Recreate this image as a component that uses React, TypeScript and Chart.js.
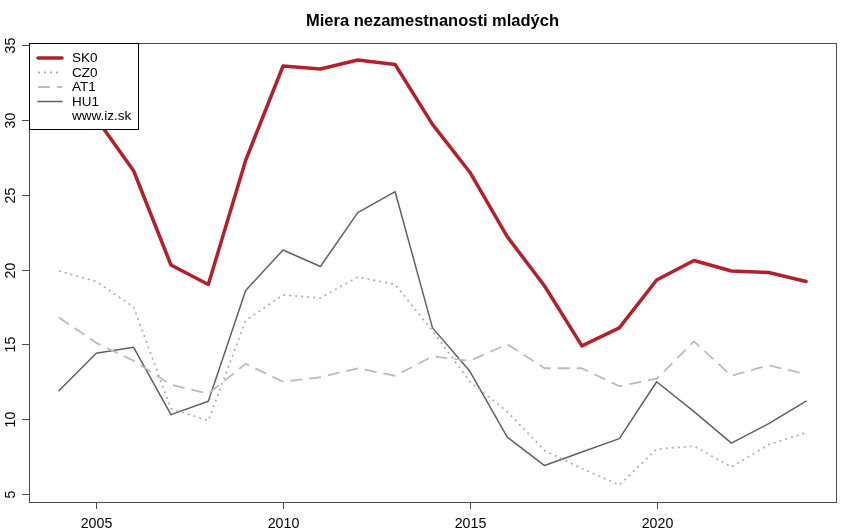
import React, { useEffect, useRef } from "react";
import { Chart, registerables } from "chart.js";

Chart.register(...registerables);

const years = [2004, 2005, 2006, 2007, 2008, 2009, 2010, 2011, 2012, 2013, 2014, 2015, 2016, 2017, 2018, 2019, 2020, 2021, 2022, 2023, 2024];
const sk = [32.7, 30.1, 26.6, 20.3, 19.0, 27.3, 33.6, 33.4, 34.0, 33.7, 29.7, 26.5, 22.2, 18.9, 14.9, 16.1, 19.3, 20.6, 19.9, 19.8, 19.2];
const cz = [19.9, 19.2, 17.5, 10.7, 9.9, 16.6, 18.3, 18.1, 19.5, 19.0, 15.9, 12.5, 10.5, 7.9, 6.7, 5.6, 8.0, 8.2, 6.8, 8.3, 9.1];
const at = [16.8, 15.1, 13.9, 12.3, 11.7, 13.7, 12.5, 12.8, 13.4, 12.9, 14.2, 13.9, 15.0, 13.4, 13.4, 12.2, 12.7, 15.2, 12.9, 13.6, 13.0];
const hu = [11.9, 14.4, 14.8, 10.3, 11.2, 18.6, 21.3, 20.2, 23.8, 25.2, 16.1, 13.2, 8.8, 6.9, 7.8, 8.7, 12.5, 10.5, 8.4, 9.7, 11.2];

const seriesLabels = ["SK0", "CZ0", "AT1", "HU1"];
const xTicks = [2005, 2010, 2015, 2020];
const yTicks = [5, 10, 15, 20, 25, 30, 35];
const title = "Miera nezamestnanosti mladých";
const legendNote = "www.iz.sk";

const FONT = "'Liberation Sans', Arial, Helvetica, sans-serif";

export default function App() {
  const ref = useRef<HTMLCanvasElement>(null);

  useEffect(() => {
    const styles = [
      { color: "#b3202a", width: 3.5, dash: [] as number[], cap: "round" },
      { color: "#aeb0b6", width: 1.8, dash: [2, 4], cap: "butt" },
      { color: "#b6bcc4", width: 1.8, dash: [12, 7], cap: "butt" },
      { color: "#606060", width: 1.5, dash: [] as number[], cap: "round" },
    ];
    const values = [sk, cz, at, hu];
    const all = values.flat();
    const lo = Math.min(...all);
    const hi = Math.max(...all);
    const ypad = (hi - lo) * 0.04;
    const x0 = years[0];
    const x1 = years[years.length - 1];
    const xpad = (x1 - x0) * 0.04;

    const rbase = {
      id: "rbase",
      afterDraw(chart: any) {
        const ctx = chart.ctx as CanvasRenderingContext2D;
        const { left, right, top, bottom } = chart.chartArea;
        const xs = chart.scales.x;
        const ys = chart.scales.y;
        ctx.save();
        // plot box
        ctx.strokeStyle = "#4a4a4a";
        ctx.lineWidth = 1;
        ctx.setLineDash([]);
        ctx.strokeRect(Math.round(left) + 0.5, Math.round(top) + 0.5, Math.round(right - left), Math.round(bottom - top));
        // y axis ticks
        ctx.fillStyle = "#000";
        ctx.font = `14.2px ${FONT}`;
        ctx.textAlign = "center";
        ctx.textBaseline = "middle";
        for (const v of yTicks) {
          const py = Math.round(ys.getPixelForValue(v)) + 0.5;
          ctx.beginPath();
          ctx.moveTo(left - 7, py);
          ctx.lineTo(left, py);
          ctx.stroke();
          ctx.save();
          ctx.translate(11, py);
          ctx.rotate(-Math.PI / 2);
          ctx.fillText(String(v), 0, 0);
          ctx.restore();
        }
        // x axis ticks
        for (const v of xTicks) {
          const px = Math.round(xs.getPixelForValue(v)) + 0.5;
          ctx.beginPath();
          ctx.moveTo(px, bottom);
          ctx.lineTo(px, bottom + 7);
          ctx.stroke();
          ctx.fillText(String(v), px, 524);
        }
        // title
        ctx.font = `bold 16.5px ${FONT}`;
        ctx.fillText(title, (left + right) / 2, 21);
        // legend
        const lx = Math.round(left) + 0.5;
        const ly = Math.round(top) + 0.5;
        const lw = 109;
        const lh = 86;
        ctx.fillStyle = "#fff";
        ctx.fillRect(lx, ly, lw, lh);
        ctx.strokeStyle = "#000";
        ctx.strokeRect(lx, ly, lw, lh);
        ctx.font = `13.5px ${FONT}`;
        ctx.textAlign = "left";
        const rows = [...seriesLabels, legendNote];
        rows.forEach((label, i) => {
          const ry = 58 + i * 14.5;
          if (i < styles.length) {
            const s = styles[i];
            ctx.strokeStyle = s.color;
            ctx.lineWidth = s.width;
            ctx.setLineDash(s.dash);
            ctx.lineCap = s.cap as CanvasLineCap;
            ctx.beginPath();
            ctx.moveTo(38, ry);
            ctx.lineTo(62, ry);
            ctx.stroke();
            ctx.setLineDash([]);
          }
          ctx.fillStyle = "#000";
          ctx.fillText(label, 72, ry + 0.5);
        });
        ctx.restore();
      },
    };

    const chart = new Chart(ref.current as HTMLCanvasElement, {
      type: "line",
      data: {
        datasets: values.map((vals, i) => ({
          label: seriesLabels[i],
          data: years.map((y, j) => ({ x: y, y: vals[j] })),
          borderColor: styles[i].color,
          borderWidth: styles[i].width,
          borderDash: styles[i].dash,
          borderCapStyle: styles[i].cap as any,
          borderJoinStyle: "round" as any,
          pointRadius: 0,
          fill: false,
          tension: 0,
        })),
      },
      options: {
        animation: false,
        responsive: false,
        layout: { padding: { left: 29, top: 43, right: 14, bottom: 30 } },
        plugins: {
          legend: { display: false },
          tooltip: { enabled: false },
          title: { display: false },
        },
        scales: {
          x: { type: "linear", min: x0 - xpad, max: x1 + xpad, display: false },
          y: { type: "linear", min: lo - ypad, max: hi + ypad, display: false },
        },
      },
      plugins: [rbase],
    });
    return () => chart.destroy();
  }, []);

  return (
    <div style={{ position: "absolute", left: 0, top: 0, width: 850, height: 532, background: "#fff" }}>
      <canvas ref={ref} width={850} height={532} />
    </div>
  );
}
